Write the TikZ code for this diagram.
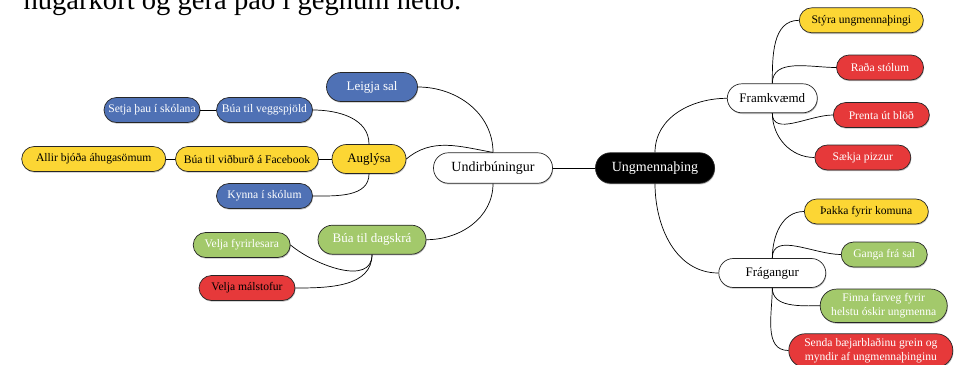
\documentclass[tikz,border=0pt]{standalone}
\usepackage{fontspec}
\setmainfont{Liberation Serif}
\usetikzlibrary{shadows}
\definecolor{mapblue}{RGB}{79,113,181}
\definecolor{mapyellow}{RGB}{252,214,52}
\definecolor{mapgreen}{RGB}{163,201,107}
\definecolor{mapred}{RGB}{230,57,58}
\begin{document}
\begin{tikzpicture}[x=1pt,y=-1pt,
pill/.style={draw=black!85,line width=0.7pt,rounded corners=#1,inner xsep=2pt,inner ysep=1pt,align=center,drop shadow={shadow xshift=0.6pt,shadow yshift=-1.2pt,opacity=0.35,fill=black!70}},
topic/.style={pill=15pt,minimum height=30.5pt,font=\fontsize{14}{16}\selectfont},
sub/.style={pill=14.5pt,minimum height=29pt,font=\fontsize{13}{15}\selectfont},
leaf/.style={pill=12.5pt,minimum height=25pt,font=\fontsize{11.6}{13.8}\selectfont},
bluebox/.style={fill=mapblue,text=white},
yellowbox/.style={fill=mapyellow,text=black},
greenbox/.style={fill=mapgreen,text=white},
redbox/.style={fill=mapred,text=white},
link/.style={line width=0.7pt}]
\clip(0,0)rectangle(957,364);
\node[anchor=base west,font=\fontsize{28.6}{29}\selectfont](title)at(20,9.5){hugarkort og gera það í gegnum netið.};
\node[topic,fill=black,text=white,minimum width=119pt](ung)at(655,168){Ungmennaþing};
\node[topic,fill=white,minimum width=119pt](undir)at(493,168){Undirbúningur};
\node[sub,bluebox,minimum width=91pt](leigja)at(372,87){Leigja sal};
\node[sub,yellowbox,minimum width=74pt](aug)at(369,159){Auglýsa};
\node[sub,greenbox,minimum width=108pt](dag)at(372,239.7){Búa til dagskrá};
\node[sub,fill=white,minimum width=90pt](framk)at(772.3,98.3){Framkvæmd};
\node[sub,fill=white,minimum width=107pt](frag)at(772.3,273){Frágangur};
\node[leaf,bluebox,minimum width=96pt](vegg)at(264.5,110){Búa til veggspjöld};
\node[leaf,bluebox,minimum width=96pt](setja)at(152,110){Setja þau í skólana};
\node[leaf,yellowbox,minimum width=143pt](face)at(247,159){Búa til viðburð á Facebook};
\node[leaf,yellowbox,minimum width=144pt](allir)at(93.7,159){Allir bjóða áhugasömum};
\node[leaf,bluebox,minimum width=96pt](kynna)at(264.5,196){Kynna í skólum};
\node[leaf,greenbox,minimum width=97pt](fyrir)at(241.7,245){Velja fyrirlesara};
\node[leaf,redbox,text=black,minimum width=96pt](malst)at(247,288){Velja málstofur};
\node[leaf,yellowbox,minimum width=124pt](styra)at(861.3,20.3){Stýra ungmennaþingi};
\node[leaf,redbox,minimum width=87pt](rada)at(880,67.5){Raða stólum};
\node[leaf,redbox,minimum width=96pt](prenta)at(881.3,115){Prenta út blöð};
\node[leaf,redbox,minimum width=96pt](saekja)at(862.8,157.5){Sækja pizzur};
\node[leaf,yellowbox,minimum width=124pt](thakka)at(866.3,211.5){Þakka fyrir komuna};
\node[leaf,greenbox,minimum width=86pt](ganga)at(884.2,254.5){Ganga frá sal};
\node[leaf,greenbox,rounded corners=16.5pt,minimum width=127pt,minimum height=33.5pt](finna)at(883.7,305.8){Finna farveg fyrir\\helstu óskir ungmenna};
\node[leaf,redbox,rounded corners=16.5pt,minimum width=164pt,minimum height=33.5pt](senda)at(870.8,350.5){Senda bæjarblaðinu grein og\\myndir af ungmennaþinginu};
\draw[link](undir.east)--(ung.west);
\draw[link](undir.north)to[out=90,in=0](leigja.east);
\draw[link](undir.north)to[out=170,in=40](aug.east);
\draw[link](undir.south)to[out=270,in=0](dag.east);
\draw[link](aug.north)to[out=90,in=0](vegg.east);
\draw[link](aug.south)to[out=270,in=0](kynna.east);
\draw[link](aug.west)--(face.east);
\draw[link](face.west)--(allir.east);
\draw[link](vegg.west)--(setja.east);
\draw[link](dag.south)to[out=270,in=-40](fyrir.east);
\draw[link](dag.south)to[out=270,in=0](malst.east);
\draw[link](ung.north)to[out=90,in=180](framk.west);
\draw[link](ung.south)to[out=270,in=180](frag.west);
\draw[link](framk.north)to[out=90,in=180](styra.west);
\draw[link](framk.north)to[out=90,in=180](rada.west);
\draw[link](framk.south)to[out=270,in=180](prenta.west);
\draw[link](framk.south)to[out=270,in=180](saekja.west);
\draw[link](frag.north)to[out=90,in=180](thakka.west);
\draw[link](frag.north)to[out=90,in=180](ganga.west);
\draw[link](frag.south)to[out=270,in=180](finna.west);
\draw[link](frag.south)to[out=270,in=180](senda.west);
\end{tikzpicture}
\end{document}
